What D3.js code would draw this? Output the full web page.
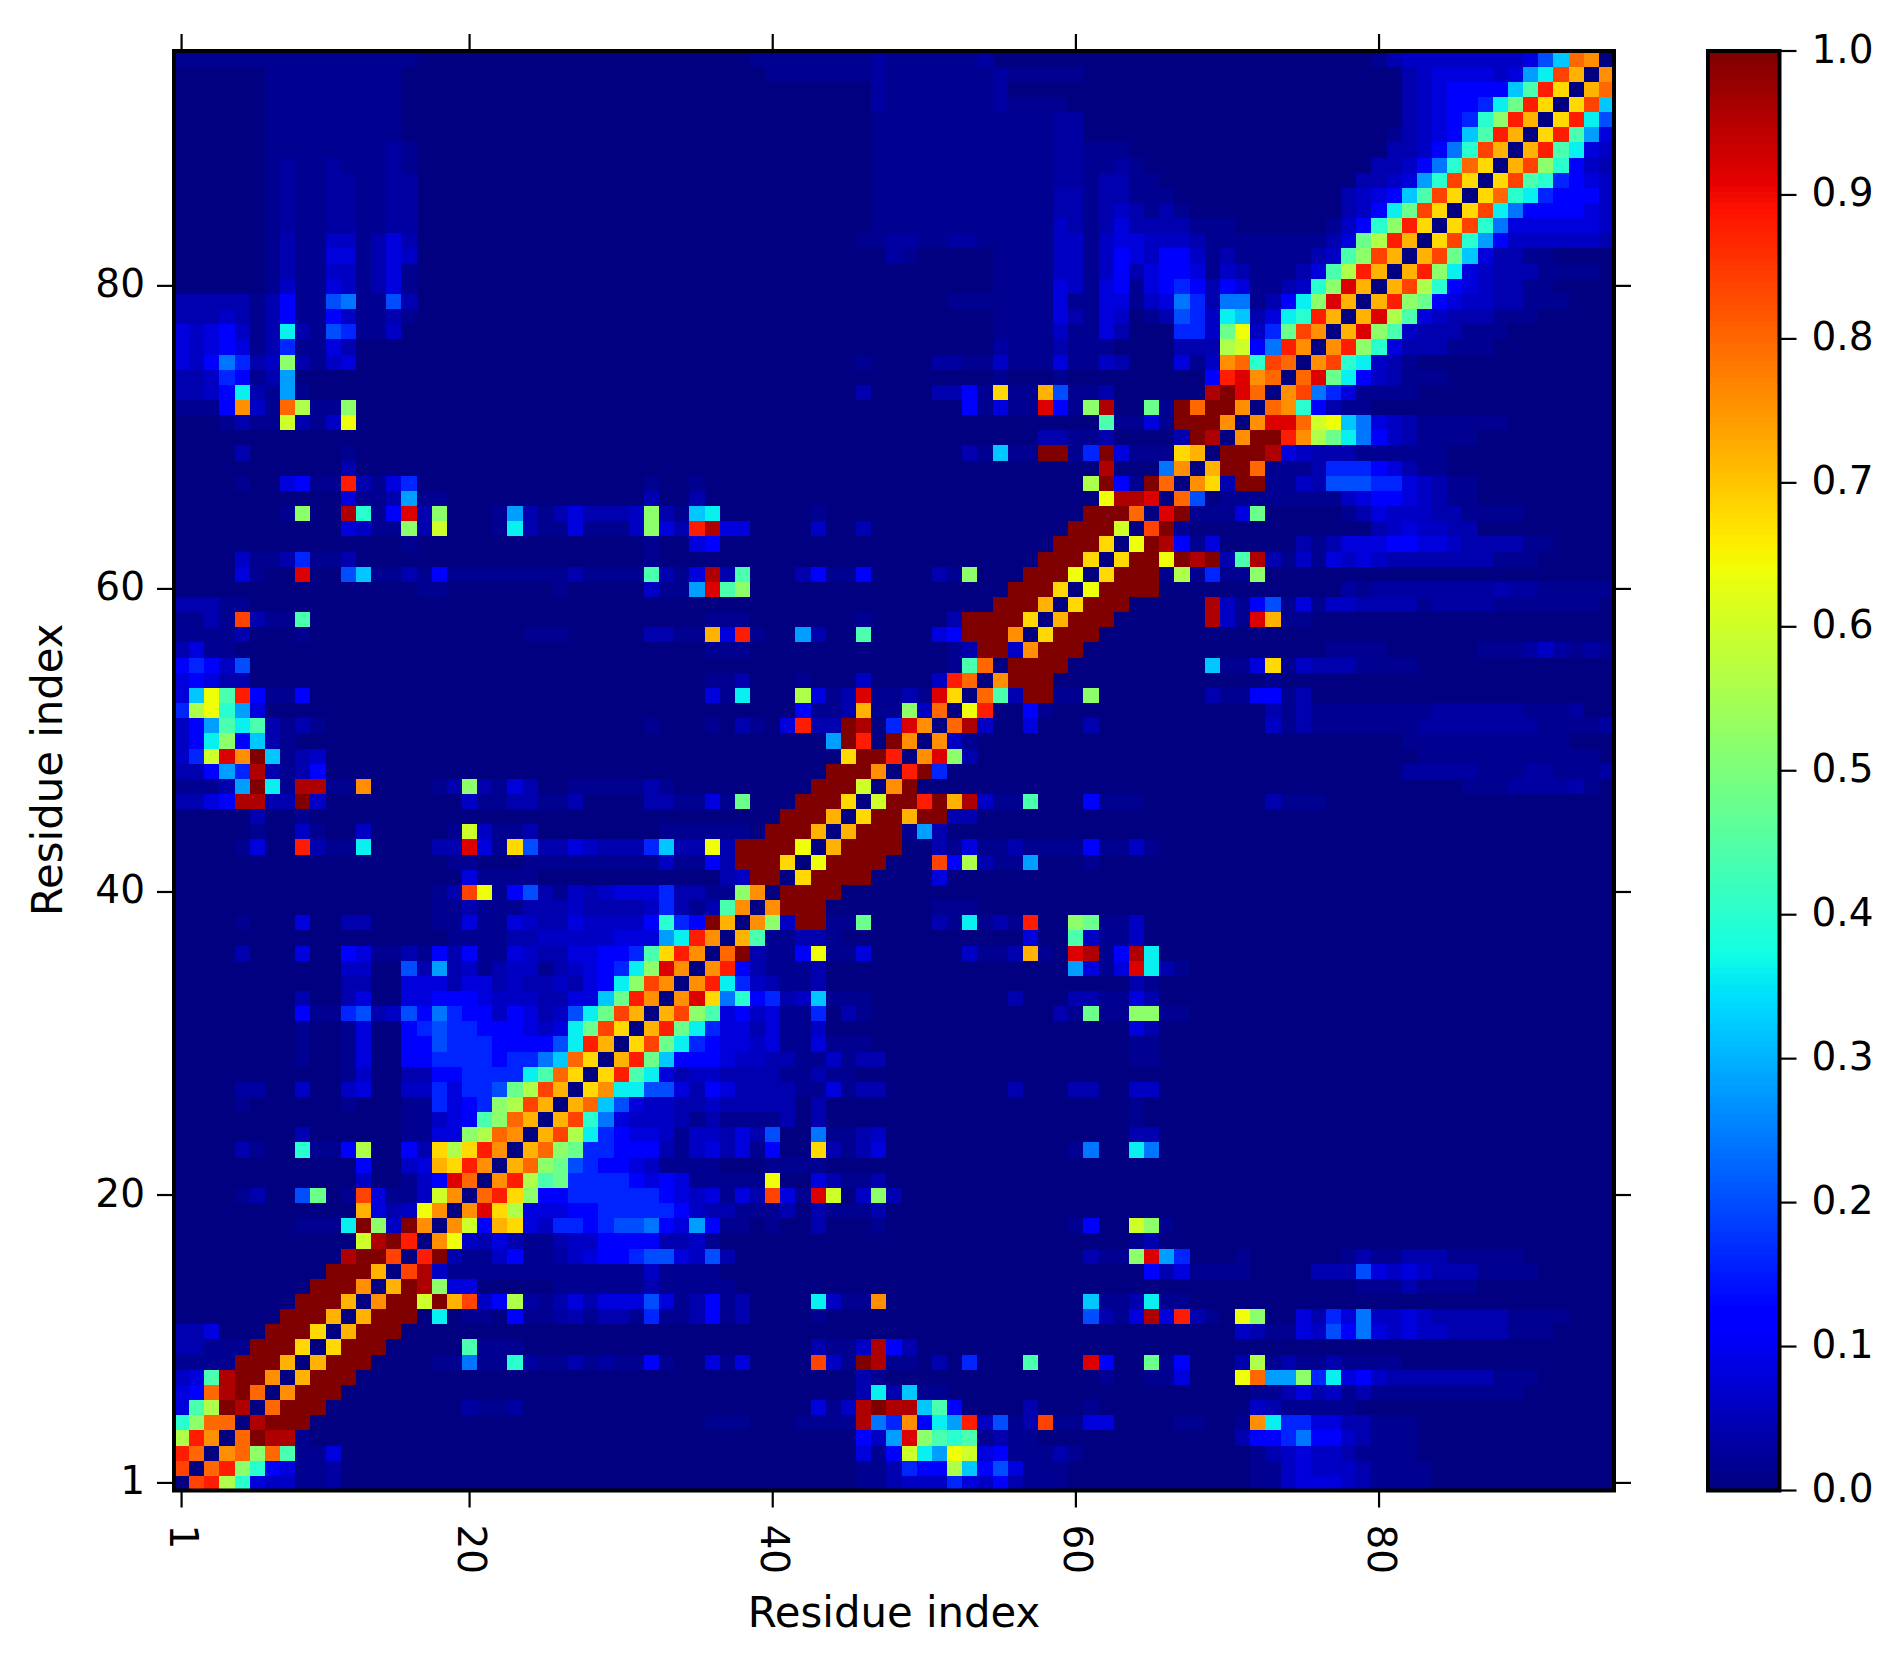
<!DOCTYPE html>
<html><head><meta charset="utf-8">
<script src="https://cdn.jsdelivr.net/npm/d3@7"></script>
<style>html,body{margin:0;padding:0;background:#fff}svg{display:block}text{font-family:"DejaVu Sans";fill:#000}</style>
</head><body><div id="chart"></div>
<script>
// Residue indices and tick labels
const residues = d3.range(1, 96);
const tickResidues = [1, 20, 40, 60, 80];
const colorbarTicks = [0, .1, .2, .3, .4, .5, .6, .7, .8, .9, 1];
const axisTitle = "Residue index";

// Value codes: a..z = 0..1 in steps of .04, plus faint levels
const faintLevels = {".": 0, ",": .015, ";": .03, "-": .06, "+": .1};

// [row, first column, codes]; cells not listed are 0
const rowsBottom = [
[1,1,".vwokc--,,;"],[1,46,",,b---ec-db,,,"],[1,72,",,-ccc-b,,,,"],
[2,1,"v.uwnkdc,,;"],[2,46,",,beddoidfc,,,"],[2,72,",,-c---b,,,,"],
[3,1,"wu.tunul,,c"],[3,46,"c,dpjhqpcd,,,b,"],[3,72,",b-c--b,,,,"],
[4,1,"owt.uzyy,"],[4,46,"d-hxnlkl,b,,"],[4,71,"bddegdd-b,,,"],
[5,1,"knuu.yzzz"],[5,36,",,,"],[5,42,",,,,"],[5,46,"ygetdjhw-f,bv,,cc"],[5,67,",,"],[5,71,",tjeeccbb,,,"],
[6,1,"clozy.uzzz"],[6,20,";,,;"],[6,43,"c,-yzyyild"],[6,57,"b"],[6,61,","],[6,72,"-b,,,,,"],
[7,1,"cduyzu.tzzz"],[7,46,"bjbi,,"],[7,72,",,bcb-,b,,,,,,,,,,"],
[8,1,"-clyzzt.szzz"],[8,46,"b,"],[8,62,","],[8,65,",,c"],[8,71,"quhhnejcd-bbbbbbb,,,"],
[9,1,",,,,zzzs.szzz"],[9,18,",,g,,k;,,b,;,,d,"],[9,36,"c,c"],[9,43,"v-,zy,,"],[9,51,"b"],[9,53,"e"],[9,57,"l"],[9,61,"xd"],[9,65,"m,d"],[9,71,"bo,b,,b,,,,"],
[10,1,"bb,,,zzzr.rzzz"],[10,20,"l,,,"],[10,43,"b,,-ydb"],
[11,1,"bbc...zzzr.szzz"],[11,71,"-b,,c-fdgc-c--bbbb,,,"],
[12,8,"zzzs.szzz"],[12,18,"j"],[12,20,",,.d,,;b,bb,e,,bd,b"],[12,43,","],[12,61,"fb,"],[12,64,"cycwb,"],[12,71,"qn"],[12,75,"cbecg--c-bbbbb,,,,"],
[13,9,"zzzs.tzzpzsv-do;,bcbcccf"],[13,33,"c,bd,b"],[13,43,"j-,,t"],[13,61,"i,,bj,,"],
[14,10,"zzzt.szyncc"],[14,26,",,,,,,b,,,,,"],[14,79,",,,b,,,,"],
[15,11,"zzzs.vy-"],[15,19,",,,,,,,,,,,,,-,,,,"],[15,65,"dbc,,,"],[15,71,","],[15,76,"bbbfc-c-bbb,,,,"],
[16,12,"yzzv.wzb,,-d,,;-cddeffc-fb"],[16,61,"b,,nxhe"],[16,71,","],[16,78,",b,,bbb,,,,,"],
[17,13,"pyzw.tq-bcb,,b--ddddbb-,"],[17,64,",b"],
[18,9,",,,jzn-zt.tpdsrc-eedeffgdchd,,"],[18,40,","],[18,43,"b"],[18,47,","],[18,60,",d"],[18,64,"pn,"],
[19,13,"scb-qt.txrocccddeeeeed-bb,,,b"],[19,43,"b,,,b"],
[20,5,",b"],[20,9,"fm.,vc,,-pt.uwrnddeeeeeedc-c,cbvc,xp.-nb"],
[21,13,"-"],[21,16,",-dxu.twolmeeeedcdc-"],[21,35,",,,,,q"],[21,43,"cb,,b"],
[22,13,"d"],[22,16,"-csrwt.sunmfeddc-,,,,"],[22,40,",,,,"],
[23,5,"b,"],[23,9,"k,,do"],[23,16,"dbrorwt.sunmeedddb,-cbc,d"],[23,43,"rb,bc"],[23,60,",g"],[23,64,"jg"],
[24,9,"b"],[24,16,",,ccnout.svojedcc-,--bcbf"],[24,43,"g,,b-"],[24,64,"bb"],
[25,16,",,-cdlnus.svkgc---b,b,,,,b"],[25,43,"b"],[25,64,","],
[26,5,","],[26,12,","],[26,16,",,ecdenovs.suifc--bb-bbbbb"],[26,43,"b"],[26,64,","],
[27,5,";;"],[27,9,"-"],[27,12,"-c"],[27,16,"--eceefmovs.rtjjffcbdcbbbb,,c,bb"],[27,56,"b"],[27,60,"bb"],[27,64,"--"],
[28,12,",-"],[28,16,"bbddeeeejlur.rwljcb--bbbb,,b,,"],
[29,9,","],[29,12,",c"],[29,16,"ddeeeedeegiur.swmidddc--bb,,-,bb"],[29,64,",,"],
[30,9,","],[30,12,",c"],[30,16,"ddfeeeddddfjws.rvmjedcc-c,,c,,,"],[30,64,",,"],
[31,9,","],[31,12,",c"],[31,16,"defeedddc-cjmvr.swmjeccbc,,-"],[31,64,"cb"],
[32,9,"d,,efb-fdgedd-dcb-fjmvs.svnlcd-c,,e"],[32,45,"b,"],[32,59,"b,m,,nn,,"]
];

const rowsMiddle = [
[33,9,"b"],[33,12,"bc"],[33,16,"ccdddc---bbccimwt.txrgkdeb-i,,,"],[33,56,"b"],[33,60,"bb,,cb"],
[34,12,"bb"],[34,16,"cccbccb-bb-bcdjnvt.twje-b,,b"],[34,64,"b,"],
[35,12,"--"],[35,16,"fbhb-,b--,b-cdejnxt.twdb,,,b"],[35,60,"hc,cxjb,"],
[36,5,"b"],[36,9,"c"],[36,12,"dc,,b,db"],[36,20,"d,,c-bbccddelrwt.uzb,,dq,,c"],[36,53,"-,,bs,"],[36,60,"xy,dyj"],
[37,19,",,,,bb-----ccchjwt.sl,,bb,"],[37,57,"c"],[37,60,"l-,,-"],
[38,5,","],[38,9,"c"],[38,12,"bb"],[38,18,",,c,,c-bbc----dkedzs.tn-zz,,m"],[38,51,"b,j,b,w"],[38,60,"nm,,-"],
[39,18,",,b,,,bbb-bbbb-eb,blt.tzzz"],[39,51,",,,"],
[40,18,",bvq,dfb,-b-cccebb,,nt.zzzz"],
[41,20,"c,,,,"],[41,37,"b-zz.rzzzz"],[41,51,"c"],
[42,19,",,"],[42,24,",,,,,,,,,"],[42,33,"-,,dbzzzr.qzzzz"],[42,51,"vdob,,h"],[42,61,","],
[43,5,",c"],[43,9,"wb,,j"],[43,18,"bbxc,rfbbc-bbbeibbqbzzzzq.szzzz"],[43,51,"b,c,,b,,,,d,,-"],[43,65,","],
[44,6,","],[44,9,"-,"],[44,13,"-"],[44,19,",p-,,b"],[44,33,",,,,,,"],[44,40,"zzzs.szzz,hb"],
[45,6,"b"],[45,9,","],[45,41,"zzzs.rzzszzbb"],
[46,1,"bbcdyybbz-"],[46,20,"-,,bb,,b"],[46,32,"bb,,c,m"],[46,42,"zzzr.pzzwzsy-,,l"],[46,61,"d,,,"],[46,73,"b,,,"],
[47,1,",,,bhzj,yy,,t"],[47,18,",bnb,cb"],[47,27,",,,,,"],[47,32,"b,"],[47,43,"zzzp.tz"],[47,86,",,,;;;;b,"],
[48,1,"bbdheyb,bd"],[48,44,"zzzt.wze"],[48,82,";;;;;,,,;;,,,;"],
[49,1,"-epxtzi,b-"],[49,45,"rzzw.txnb"],[49,83,",,,,,,,,,,,,"],
[50,1,"-djndib,"],[50,44,"hzw.zt.t-,"],[50,82,",,,,,,,,,,,"],
[51,1,"-dhljlb,b,"],[51,32,","],[51,36,","],[51,38,"b,"],[51,41,"cwbbzy.ext.uy-"],[51,57,"c"],[51,61,"b"],[51,73,"-,b,,,,,,,;;;;;;;;,,,,;"],
[52,1,"eoqkhc"],[52,42,"d,,bs,,n-u.qw"],[52,57,"d,"],[52,73,"b,b,,,,,,,,;;;;;;,,,;"],
[53,1,"ciqlwd,,d"],[53,36,"c,j"],[53,42,"oc,bx,,b,xr.ulbzz,,n"],[53,69,"b,,dd,b"],
[54,1,"cdcbb"],[54,36,",,b"],[54,42,","],[54,46,"-"],[54,51,"-wu.tzzz"],[54,73,","],
[55,1,"ded-f"],[55,52,",lu.zzzz"],[55,69,"i,,cr,-bbb,,,,"],
[56,1,"bc,,"],[56,36,",,,"],[56,52,",bzz-tzzz"],[56,77,",,,,"],[56,87,",,,;-;,;,"],
[57,1,",,,,b"],[57,9,","],[57,24,",,,"],[57,32,"bb,,scw,"],[57,42,"hb"],[57,46,"l"],[57,51,"cdzzzt.rzzz"],
[58,1,",,b,vb,,l"],[58,36,",,,"],[58,46,","],[58,52,"bzzzzr.szzz"],[58,69,"y-,xs,,"],
[59,1,"bbb,,"],[59,55,"zzzs.rzzz"],[59,69,"y-,df,c,--bbbb,;;;;,,,,,,,"],
[60,17,",,"],[60,26,","],[60,32,"-,,hxln"],[60,56,"zzzr.qzzzz"],[60,78,";,;;;;;;;;b;;,,,,,;"],
[61,5,"c,"],[61,9,"x"],[61,12,"fi,,b,d,,,,,h"],[61,24,",,,b,,,,lb,cybl"],[61,42,"bd,,d"],[61,51,"b,n"],[61,57,"zzzq.rzzz,o,e,,n"],
[62,5,"-,,be,,b"],[62,32,","],[62,58,"zzzr.rzzqzyzblyb,-,c-c-bbbbbbb,,,"],
[63,16,","],[63,32,","],[63,35,"cd"],[63,59,"zzzr.qzyd,c"],[63,75,"b,bcccddcc-bbbb,,"],
[64,12,"c-,,nbp"],[64,22,",jb,,c,,,-ncbwycc"],[64,43,"-"],[64,46,"b"],[64,60,"zzzp.vz,"],[64,80,"b-c--bb"]
];

const rowsTop = [
[65,8,",n"],[65,12,"yk,dxbn"],[65,22,",hb,bcbbb-nb,ij"],[65,43,","],[65,61,"zzzu.xz,,,cm"],[65,78,",bc---bb,,,,"],
[66,12,"c,,bh,,"],[66,32,"b"],[66,35,"b"],[66,62,"qyyx.uf"],[66,70,",,,,,,,,-cddc-b,,"],
[67,5,","],[67,8,"cd,,wb,ce"],[67,32,","],[67,35,","],[67,61,"ozd,zu.trbzz,,-bfffeec-b,,"],
[68,12,"b"],[68,62,"y"],[68,66,"gt.szzu,,,"],[68,76,"beeedcb,,"],
[69,5,"b"],[69,12,","],[69,53,"b,i,,zz,ezc,,,rs.zzzyc-bbb,,,,,,"],
[70,58,"bb,,b"],[70,67,"bzy.tzzwtomjgd-b,,,,"],
[71,4,",b,,pb,-q"],[71,62,"l,,c,zzzt.txxupqigc-b,,,,,,"],
[72,1,",,,dt-,uo,,n"],[72,53,"d,c,,xd,ny"],[72,65,"m,zuzzt.utkdb,,"],
[73,1,"bb-djb,h,"],[73,46,"b"],[73,51,"bbd,r,,sf,,b"],[73,69,"yzxu.tvgec,,,,"],
[74,1,"bb-ed,bh"],[74,55,","],[74,59,","],[74,69,"dwxtu.uxmjd-b,,,"],
[75,1,"c-dgeb-nb,-c"],[75,46,","],[75,51,";;,,-,,,c,,-b"],[75,67,"c,-tukvu.tvkj-b,"],
[76,1,"c-cdc,be,,cb"],[76,55,";,,,b,,,"],[76,67,"bbbopdgwt.twnkcbbb,,,"],
[77,1,"c-cd-,bjb,fe,,-"],[77,55,",,,,-,,cb"],[77,67,"ee-mq-emvt.sxnl-bbb,,,"],
[78,1,"bbb-b,bd,,d-,,b,"],[78,55,",,,,cb,c-"],[78,65,",bfe-jibcjkws.sxolc-bbb,,,"],
[79,1,"bbbbb,bd,,fg,,fb"],[79,52,",,,,,,,c,,cc,-cgebgg,bdjnxs.swnmdc--bb,,,"],
[80,7,",-,,c-,bc,"],[80,55,",,,,c-,cd,cdedbdc,,b-knxs.svokdc-bb,,"],
[81,7,",b,,--,bc,"],[81,55,",,,,--,-dbcddc,-b,,,bclows.swnjc-bbb,,,,"],
[82,7,",b,,cc,bc-"],[82,48,";,"],[82,55,",,,,--,-dc-dd-,b,,,,,b-lnvs.svmicbb,,"],
[83,7,",b,,--,bcb"],[83,46,",,;;,,;;,,,,,--,-cc---b,,,,,,,,bcmows.rvkhd------b"],
[84,7,",;,,;;,,;;"],[84,47,",,,,,,,,,,,,-b,bcbbbb,,,"],[84,77,",-dknwr.rvkgcccccc-"],
[85,7,",;,,;;,,;;"],[85,47,",,,,,,,,,,,,bb,b-b,b,"],[85,78,"b-djmvr.rvjgddddc-"],
[86,7,",;,,;;,,;;"],[86,47,",,,,,,,,,,,,bb,bb,,,"],[86,78,"b-cdilvr.rukjeddd-"],
[87,7,",;,,;;,,;;"],[87,47,",,,,,,,,,,,,;;,bb,,"],[87,79,"bb-chkvr.rvlkedc-"],
[88,7,",;,,;,,,;,"],[88,47,",,,,,,,,,,,,;;,,;,"],[88,80,"bb-dgkur.svnkd-b"],
[89,7,",,,,,,,,;,"],[89,47,",,,,,,,,,,,,;;,,,"],[89,81,"bb-dgkvs.swljc-"],
[90,7,",,,,,,,,,"],[90,47,",,,,,,,,,,,,;;"],[90,81,",b-cdilws.rwlhc"],
[91,7,",,,,,,,,,"],[91,47,",,,,,,,,,,,,;;"],[91,82,"b-cdeknws.rwjf"],
[92,7,",,,,,,,,,"],[92,47,";,,,,,,,;,,,,"],[92,82,"b-cddejmwr.rvi"],
[93,7,",,,,,,,,,"],[93,47,";,,,,,,,;"],[93,82,"b-cddddilwr.su"],
[94,7,",,,,,,,,,"],[94,40,",,,,,,,;,,,,,,,;,,,,,"],[94,82,"b-cccc-chjvs.t"],
[95,1,",,,,,,,,,,,,,,,,"],[95,39,",,,,,,,,;,,,,,,;"],[95,80,",b--------cfiut."]
];

const W = 1903, H = 1665;
const frame = {left: 174, right: 1614, top: 51, bottom: 1490.5};
const bar = {left: 1708, right: 1779.5, top: 51, bottom: 1490.5};
const FONT = 39, TITLE = 41.8, TICK = 17;

const levelOf = c => c in faintLevels ? faintLevels[c] : (c.charCodeAt(0) - 97) * .04;

const grid = new Map();
for (const [r, start, codes] of [...rowsBottom, ...rowsMiddle, ...rowsTop]) {
  [...codes].forEach((c, i) => grid.set(r + "-" + (start + i), levelOf(c)));
}
const cells = [];
for (const r of residues) for (const c of residues) cells.push({r, c, v: grid.get(r + "-" + c) || 0});

// matplotlib "jet"
const ch = (d, v) => d3.scaleLinear().domain(d).range(v).clamp(true);
const jetR = ch([0, .35, .66, .89, 1], [0, 0, 1, 1, .5]);
const jetG = ch([0, .125, .375, .64, .91, 1], [0, 0, 1, 1, 0, 0]);
const jetB = ch([0, .11, .34, .65, 1], [.5, 1, 1, 0, 0]);
const jet = v => d3.rgb(255 * jetR(v), 255 * jetG(v), 255 * jetB(v)).toString();

const x = d3.scaleBand().domain(residues).range([frame.left, frame.right]);
const y = d3.scaleBand().domain(residues.slice().reverse()).range([frame.top, frame.bottom]);
const barY = d3.scaleLinear().domain([0, 1]).range([bar.bottom, bar.top]);

const svg = d3.select("#chart").append("svg").attr("width", W).attr("height", H);

svg.append("g").attr("shape-rendering", "crispEdges")
  .selectAll("rect").data(cells).join("rect")
  .attr("x", d => x(d.c)).attr("y", d => y(d.r))
  .attr("width", x.bandwidth() + .5).attr("height", y.bandwidth() + .5)
  .attr("fill", d => jet(d.v));

const styleAxis = (g, noLabels) => {
  g.select(".domain").remove();
  g.selectAll(".tick line").attr("stroke", "#000").attr("stroke-width", 2.2);
  g.selectAll(".tick text").attr("font-size", FONT).attr("font-family", "DejaVu Sans");
  if (noLabels) g.selectAll(".tick text").remove();
};

svg.append("g").attr("transform", `translate(0,${frame.bottom})`)
  .call(d3.axisBottom(x).tickValues(tickResidues).tickSize(TICK).offset(0))
  .call(g => styleAxis(g, false))
  .call(g => g.selectAll(".tick text")
    .attr("text-anchor", "start").attr("dy", null).attr("x", null).attr("y", null)
    .attr("transform", "translate(-11.5,34) rotate(90)"));
svg.append("g").attr("transform", `translate(0,${frame.top})`)
  .call(d3.axisTop(x).tickValues(tickResidues).tickSize(TICK).offset(0))
  .call(g => styleAxis(g, true));
svg.append("g").attr("transform", `translate(${frame.left},0)`)
  .call(d3.axisLeft(y).tickValues(tickResidues).tickSize(TICK).offset(0))
  .call(g => styleAxis(g, false))
  .call(g => g.selectAll(".tick text").attr("x", -29).attr("dy", null).attr("y", 11.5));
svg.append("g").attr("transform", `translate(${frame.right},0)`)
  .call(d3.axisRight(y).tickValues(tickResidues).tickSize(TICK).offset(0))
  .call(g => styleAxis(g, true));

svg.append("rect").attr("x", frame.left).attr("y", frame.top)
  .attr("width", frame.right - frame.left).attr("height", frame.bottom - frame.top)
  .attr("fill", "none").attr("stroke", "#000").attr("stroke-width", 4);

svg.append("text").attr("x", (frame.left + frame.right) / 2).attr("y", 1627)
  .attr("text-anchor", "middle").attr("font-size", TITLE).text(axisTitle);
svg.append("text").attr("transform", `translate(62,${(frame.top + frame.bottom) / 2 - 1}) rotate(-90)`)
  .attr("text-anchor", "middle").attr("font-size", TITLE).text(axisTitle);

// colour bar
const barLevels = d3.range(256).map(i => i / 255);
const barStep = (bar.bottom - bar.top) / 256;
svg.append("g").attr("shape-rendering", "crispEdges")
  .selectAll("rect").data(barLevels).join("rect")
  .attr("x", bar.left).attr("width", bar.right - bar.left)
  .attr("y", d => barY(d) - barStep + d * barStep)
  .attr("height", barStep + .6)
  .attr("fill", d => jet(d));
svg.append("g").attr("transform", `translate(${bar.right},0)`)
  .call(d3.axisRight(barY).tickValues(colorbarTicks).tickFormat(d3.format(".1f")).tickSize(TICK).offset(0))
  .call(g => styleAxis(g, false))
  .call(g => g.selectAll(".tick text").attr("dy", null).attr("x", 32).attr("y", 11.5));
svg.append("rect").attr("x", bar.left).attr("y", bar.top)
  .attr("width", bar.right - bar.left).attr("height", bar.bottom - bar.top)
  .attr("fill", "none").attr("stroke", "#000").attr("stroke-width", 4);
</script></body></html>
